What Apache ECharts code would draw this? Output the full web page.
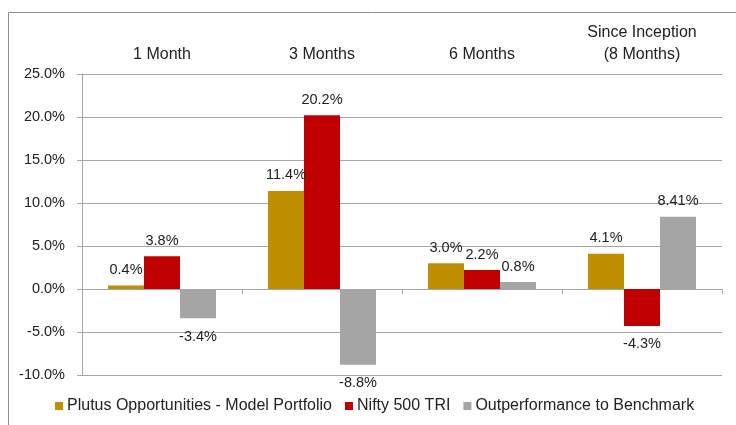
<!DOCTYPE html>
<html>
<head>
<meta charset="utf-8">
<script src="https://cdn.jsdelivr.net/npm/echarts@6/dist/echarts.min.js"></script>
<style>
  html, body { margin: 0; padding: 0; background: #fff; }
  #chart { width: 736px; height: 425px; }
</style>
</head>
<body>
<div id="chart"></div>
<script>
// periods shown across the top
var periods = ["1 Month", "3 Months", "6 Months", "Since Inception\n(8 Months)"];
var seriesNames = ["Plutus Opportunities - Model Portfolio", "Nifty 500 TRI", "Outperformance to Benchmark"];
var portfolio = [0.4, 11.4, 3.0, 4.1];
var nifty = [3.8, 20.2, 2.2, -4.3];
var outperf = [-3.4, -8.8, 0.8, 8.41];
var outperfText = ["-3.4%", "-8.8%", "0.8%", "8.41%"];
var colors = ["#BF8F00", "#C00000", "#A5A5A5"];

var font = "Liberation Sans";
var numSize = 14.5;

function toItems(values, texts) {
  return values.map(function (v, i) {
    return {
      value: v,
      label: {
        position: v < 0 ? "bottom" : "top",
        distance: v < 0 ? 11 : 8,
        formatter: texts ? texts[i] : v.toFixed(1) + "%"
      }
    };
  });
}

function makeSeries(name, values, color, texts) {
  return {
    name: name,
    type: "bar",
    xAxisIndex: 0,
    barGap: "0%",
    barCategoryGap: "32.5%",
    itemStyle: { color: color },
    label: {
      show: true,
      color: "#222",
      fontFamily: font,
      fontSize: numSize
    },
    data: toItems(values, texts)
  };
}

var chart = echarts.init(document.getElementById("chart"));

var option = {
  animation: false,
  textStyle: { fontFamily: font },
  graphic: [
    {
      type: "rect",
      shape: { x: 8.5, y: 12.5, width: 740, height: 440 },
      style: { fill: "none", stroke: "#8c8c8c", lineWidth: 1 },
      silent: true
    }
  ],
  grid: { left: 82, right: 14, top: 74, bottom: 50 },
  legend: {
    bottom: 6,
    left: 50,
    icon: "rect",
    itemWidth: 8,
    itemHeight: 8,
    itemGap: 13,
    textStyle: { color: "#222", fontSize: 16, fontFamily: font, padding: [0, 0, 0, -1] },
    data: seriesNames
  },
  xAxis: [
    {
      type: "category",
      data: periods,
      position: "bottom",
      axisLine: { onZero: true, lineStyle: { color: "#a6a6a6" } },
      axisTick: { show: true, length: 5, lineStyle: { color: "#a6a6a6" } },
      axisLabel: { show: false }
    },
    {
      type: "category",
      data: periods,
      position: "top",
      axisLine: { show: false },
      axisTick: { show: false },
      axisLabel: {
        margin: 8,
        color: "#222",
        fontSize: 16,
        fontFamily: font,
        lineHeight: 22
      }
    }
  ],
  yAxis: {
    type: "value",
    min: -10,
    max: 25,
    interval: 5,
    axisLine: { show: true, lineStyle: { color: "#a6a6a6" } },
    axisTick: { show: true, length: 5, lineStyle: { color: "#a6a6a6" } },
    splitLine: { lineStyle: { color: "#a6a6a6" } },
    axisLabel: {
      margin: 17,
      color: "#222",
      fontSize: numSize,
      fontFamily: font,
      formatter: function (v) { return v.toFixed(1) + "%"; }
    }
  },
  series: [
    makeSeries(seriesNames[0], portfolio, colors[0]),
    makeSeries(seriesNames[1], nifty, colors[1]),
    makeSeries(seriesNames[2], outperf, colors[2], outperfText)
  ]
};

chart.setOption(option);
</script>
</body>
</html>
